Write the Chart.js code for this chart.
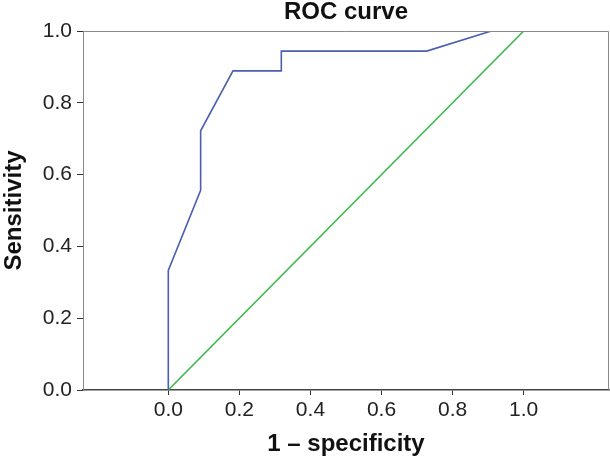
<!DOCTYPE html>
<html>
<head>
<meta charset="utf-8">
<script src="https://cdn.jsdelivr.net/npm/chart.js@4"></script>
<style>
    html, body { margin: 0; padding: 0; background: #fff; }
    #wrap { width: 610px; height: 459px; }
</style>
</head>
<body>
<div id="wrap"><canvas id="roc-chart"></canvas></div>
<script>
// ROC curve points (1 - specificity, sensitivity)
const rocFpr = [0, 0, 0.091, 0.091, 0.182, 0.318, 0.318, 0.727, 0.909, 1.0];
const rocTpr = [0, 0.333, 0.556, 0.722, 0.889, 0.889, 0.944, 0.944, 1.0, 1.0];

// reference diagonal
const refFpr = [0, 1];
const refTpr = [0, 1];

const xTicks = [0, 0.2, 0.4, 0.6, 0.8, 1.0];
const yTicks = [0, 0.2, 0.4, 0.6, 0.8, 1.0];

const fontFamily = '"Liberation Sans", Arial, sans-serif';

function toPoints(xs, ys) {
    return xs.map((x, i) => ({ x: x, y: ys[i] }));
}

// top and right edges of the plot frame
const frameBox = {
    id: 'frameBox',
    afterDraw(chart) {
        const a = chart.chartArea;
        const ctx = chart.ctx;
        ctx.save();
        ctx.strokeStyle = '#8a8a8a';
        ctx.lineWidth = 1;
        ctx.beginPath();
        ctx.moveTo(a.left, a.top + 0.5);
        ctx.lineTo(a.right - 0.5, a.top + 0.5);
        ctx.lineTo(a.right - 0.5, a.bottom);
        ctx.stroke();
        ctx.restore();
    }
};

document.addEventListener('DOMContentLoaded', function() {
    const canvas = document.getElementById('roc-chart');

    new Chart(canvas, {
        type: 'scatter',
        data: {
            datasets: [
                {
                    label: 'ROC',
                    data: toPoints(rocFpr, rocTpr),
                    showLine: true,
                    borderColor: '#4a5fae',
                    borderWidth: 1.6,
                    pointRadius: 0,
                    tension: 0
                },
                {
                    label: 'Reference',
                    data: toPoints(refFpr, refTpr),
                    showLine: true,
                    borderColor: '#3dba4c',
                    borderWidth: 1.6,
                    pointRadius: 0,
                    tension: 0
                }
            ]
        },
        options: {
            responsive: true,
            maintainAspectRatio: false,
            animation: false,
            layout: { padding: { top: 0, right: 1, bottom: 0, left: 0 } },
            plugins: {
                legend: { display: false },
                tooltip: { enabled: false },
                title: { display: false }
            },
            scales: {
                // top axis only carries the chart title, centred over the plot
                x2: {
                    type: 'linear',
                    position: 'top',
                    min: -0.24,
                    max: 1.24,
                    afterFit: function(scale) {
                        scale.height = 31;
                    },
                    ticks: { display: false },
                    grid: { display: false },
                    border: { display: false },
                    title: {
                        display: true,
                        text: 'ROC curve',
                        color: '#111',
                        font: { family: fontFamily, size: 24, weight: 'bold', lineHeight: 1 },
                        padding: { top: 0, bottom: 0 }
                    }
                },
                x: {
                    type: 'linear',
                    position: 'bottom',
                    min: -0.24,
                    max: 1.24,
                    afterBuildTicks: function(scale) {
                        scale.ticks = xTicks.map(v => ({ value: v }));
                    },
                    afterFit: function(scale) {
                        scale.height = 69;
                    },
                    ticks: {
                        color: '#222',
                        font: { family: fontFamily, size: 21 },
                        padding: 3,
                        maxRotation: 0,
                        callback: v => v.toFixed(1)
                    },
                    grid: {
                        drawOnChartArea: false,
                        drawTicks: true,
                        tickLength: 5,
                        color: '#333'
                    },
                    border: { color: '#444', width: 1.5 },
                    title: {
                        display: true,
                        text: '1 – specificity',
                        color: '#111',
                        font: { family: fontFamily, size: 24, weight: 'bold' },
                        padding: { top: 0, bottom: 0 }
                    }
                },
                y: {
                    type: 'linear',
                    min: 0,
                    max: 1,
                    afterBuildTicks: function(scale) {
                        scale.ticks = yTicks.map(v => ({ value: v }));
                    },
                    afterFit: function(scale) {
                        scale.width = 83;
                    },
                    ticks: {
                        color: '#222',
                        font: { family: fontFamily, size: 21 },
                        padding: 5,
                        callback: v => v.toFixed(1)
                    },
                    grid: {
                        drawOnChartArea: false,
                        drawTicks: true,
                        tickLength: 6,
                        color: '#333'
                    },
                    border: { color: '#8a8a8a', width: 1 },
                    title: {
                        display: true,
                        text: 'Sensitivity',
                        color: '#111',
                        font: { family: fontFamily, size: 24, weight: 'bold' },
                        padding: { top: 0, bottom: 0 }
                    }
                }
            }
        },
        plugins: [frameBox]
    });
});
</script>
</body>
</html>
